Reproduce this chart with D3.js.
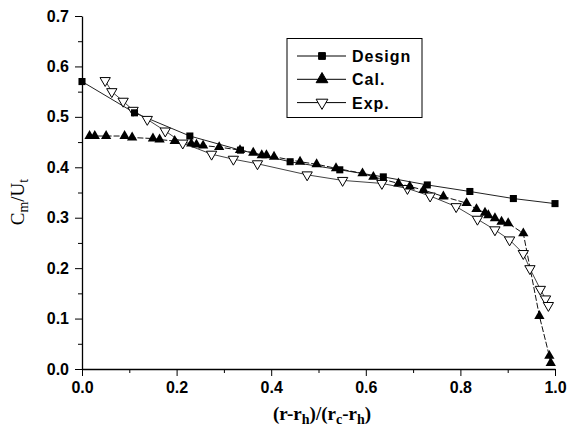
<!DOCTYPE html>
<html>
<head>
<meta charset="utf-8">
<script src="https://cdn.jsdelivr.net/npm/d3@7"></script>
<style>
  body { margin: 0; background: #fff; }
</style>
</head>
<body>
<div id="chart"></div>
<script>
// Design (squares)
var designX = [0.0, 0.111, 0.228, 0.335, 0.44, 0.545, 0.637, 0.73, 0.82, 0.912, 1.0];
var designY = [0.57, 0.508, 0.462, 0.434, 0.411, 0.395, 0.381, 0.365, 0.352, 0.338, 0.328];

// Cal. (filled triangles)
var calX = [0.016, 0.027, 0.051, 0.09, 0.106, 0.15, 0.164, 0.196, 0.231, 0.242, 0.256, 0.29, 0.334, 0.362, 0.38, 0.39, 0.406,
            0.461, 0.496, 0.537, 0.593, 0.616, 0.669, 0.693, 0.722, 0.764, 0.813, 0.834, 0.852, 0.859, 0.873, 0.887, 0.901,
            0.933, 0.967, 0.988, 0.991];
var calY = [0.462, 0.462, 0.462, 0.462, 0.459, 0.457, 0.455, 0.452, 0.447, 0.445, 0.443, 0.44, 0.434, 0.429, 0.424, 0.424, 0.421,
            0.411, 0.406, 0.398, 0.388, 0.381, 0.368, 0.362, 0.355, 0.342, 0.329, 0.317, 0.31, 0.305, 0.299, 0.292, 0.289,
            0.269, 0.105, 0.026, 0.012];

// Exp. (open down triangles)
var expX = [0.049, 0.063, 0.087, 0.108, 0.138, 0.176, 0.213, 0.274, 0.32, 0.371, 0.476, 0.551, 0.634, 0.688, 0.736, 0.791,
            0.836, 0.873, 0.904, 0.933, 0.947, 0.969, 0.98, 0.986];
var expY = [0.572, 0.55, 0.531, 0.513, 0.495, 0.472, 0.448, 0.426, 0.416, 0.407, 0.385, 0.374, 0.368, 0.358, 0.343, 0.322,
            0.297, 0.276, 0.256, 0.229, 0.199, 0.158, 0.139, 0.126];

var seriesNames = ["Design", "Cal.", "Exp."];
var xTicks = [0, 0.2, 0.4, 0.6, 0.8, 1.0];
var yTicks = [0, 0.1, 0.2, 0.3, 0.4, 0.5, 0.6, 0.7];

var w = 567, h = 434;
var padL = 82, padR = 555, padT = 16, padB = 369;

var svg = d3.select("#chart").append("svg")
    .attr("width", w).attr("height", h);

var x = d3.scaleLinear().domain([0, 1]).range([padL, padR]);
var y = d3.scaleLinear().domain([0, 0.7]).range([padB, padT]);

// minor ticks
svg.append("g")
  .attr("transform", "translate(0," + padB + ")")
  .call(d3.axisBottom(x).tickValues(d3.range(0.1, 1, 0.2)).tickSize(4).tickFormat(""))
  .call(function(g) { g.select(".domain").remove(); });
svg.append("g")
  .attr("transform", "translate(" + padL + ",0)")
  .call(d3.axisLeft(y).tickValues(d3.range(0.05, 0.7, 0.1)).tickSize(4).tickFormat(""))
  .call(function(g) { g.select(".domain").remove(); });

var xAxisG = svg.append("g")
  .attr("transform", "translate(0," + padB + ")")
  .call(d3.axisBottom(x).tickValues(xTicks).tickSize(7).tickPadding(6).tickSizeOuter(0).tickFormat(d3.format(".1f")));
var yAxisG = svg.append("g")
  .attr("transform", "translate(" + padL + ",0)")
  .call(d3.axisLeft(y).tickValues(yTicks).tickSize(7).tickPadding(6).tickSizeOuter(0).tickFormat(d3.format(".1f")));
[xAxisG, yAxisG].forEach(function(g) {
  g.attr("font-family", "Liberation Sans, Arial, sans-serif").attr("font-size", 16).attr("font-weight", "bold");
  g.select(".domain").attr("stroke-width", 1.3);
  g.selectAll(".tick text").attr("fill", "#000");
});

function pts(xs, ys) { return xs.map(function(v, i) { return [v, ys[i]]; }); }

var line = d3.line().x(function(d) { return x(d[0]); }).y(function(d) { return y(d[1]); });

var design = pts(designX, designY), cal = pts(calX, calY), exp = pts(expX, expY);

svg.append("path").datum(exp).attr("d", line).attr("fill", "none").attr("stroke", "#444").attr("stroke-width", 1);
svg.append("path").datum(design).attr("d", line).attr("fill", "none").attr("stroke", "#222").attr("stroke-width", 1);
svg.append("path").datum(cal).attr("d", line).attr("fill", "none").attr("stroke", "#111").attr("stroke-width", 1)
  .attr("stroke-dasharray", "6,2");

var sq = d3.symbol().type(d3.symbolSquare).size(50);
var tri = d3.symbol().type(d3.symbolTriangle).size(46);

svg.selectAll(".exp").data(exp).enter().append("path")
  .attr("d", tri)
  .attr("transform", function(d) { return "translate(" + x(d[0]) + "," + y(d[1]) + ") rotate(180)"; })
  .attr("fill", "#fff").attr("stroke", "#000").attr("stroke-width", 1);

svg.selectAll(".design").data(design).enter().append("path")
  .attr("d", sq)
  .attr("transform", function(d) { return "translate(" + x(d[0]) + "," + y(d[1]) + ")"; })
  .attr("fill", "#000");

svg.selectAll(".cal").data(cal).enter().append("path")
  .attr("d", tri)
  .attr("transform", function(d) { return "translate(" + x(d[0]) + "," + y(d[1]) + ")"; })
  .attr("fill", "#000");

// legend
var lg = svg.append("g");
lg.append("rect").attr("x", 287).attr("y", 38.5).attr("width", 135).attr("height", 79)
  .attr("fill", "#fff").attr("stroke", "#000").attr("stroke-width", 1);
var legendTypes = [d3.symbolSquare, d3.symbolTriangle, d3.symbolTriangle];
seriesNames.forEach(function(name, i) {
  var ly = 56 + i * 23.3;
  lg.append("line").attr("x1", 297).attr("x2", 346).attr("y1", ly).attr("y2", ly)
    .attr("stroke", "#000").attr("stroke-width", 1);
  lg.append("path").attr("d", d3.symbol().type(legendTypes[i]).size(i === 0 ? 46 : 60)())
    .attr("transform", "translate(322," + ly + ")" + (i === 2 ? " rotate(180)" : ""))
    .attr("fill", i === 2 ? "#fff" : "#000").attr("stroke", "#000");
  lg.append("text").attr("x", 352).attr("y", ly + 6)
    .attr("font-family", "Liberation Sans, Arial, sans-serif").attr("font-weight", "bold")
    .attr("font-size", 16).attr("letter-spacing", 1).text(name);
});

// axis titles
var xt = svg.append("text").attr("x", 322).attr("y", 420).attr("text-anchor", "middle")
  .attr("font-family", "Liberation Serif, Times New Roman, serif").attr("font-weight", "bold").attr("font-size", 19);
xt.append("tspan").text("(r-r");
xt.append("tspan").attr("font-size", 14).attr("dy", 4).text("h");
xt.append("tspan").attr("dy", -4).text(")/(r");
xt.append("tspan").attr("font-size", 14).attr("dy", 4).text("c");
xt.append("tspan").attr("dy", -4).text("-r");
xt.append("tspan").attr("font-size", 14).attr("dy", 4).text("h");
xt.append("tspan").attr("dy", -4).text(")");

var yt = svg.append("text").attr("transform", "translate(24,202) rotate(-90)").attr("text-anchor", "middle")
  .attr("font-family", "Liberation Serif, Times New Roman, serif").attr("font-size", 19);
yt.append("tspan").text("C");
yt.append("tspan").attr("font-size", 14).attr("dy", 4).text("m");
yt.append("tspan").attr("dy", -4).text("/U");
yt.append("tspan").attr("font-size", 14).attr("dy", 4).text("t");
</script>
</body>
</html>
